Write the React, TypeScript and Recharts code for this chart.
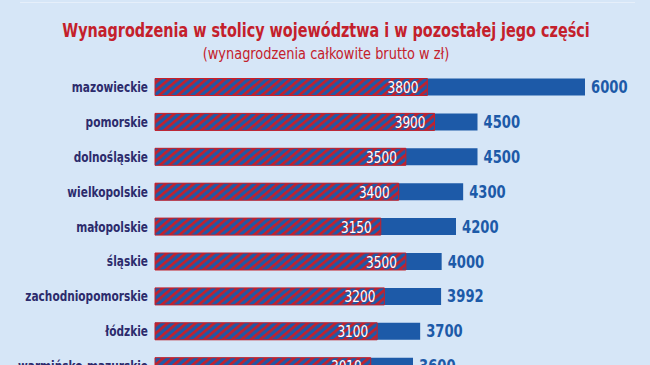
import { BarChart, Bar, XAxis, YAxis, LabelList } from 'recharts'

const regions = [
  'mazowieckie',
  'pomorskie',
  'dolnośląskie',
  'wielkopolskie',
  'małopolskie',
  'śląskie',
  'zachodniopomorskie',
  'łódzkie',
  'warmińsko-mazurskie'
]
const capitalPay = [6000, 4500, 4500, 4300, 4200, 4000, 3992, 3700, 3600]
const restPay = [3800, 3900, 3500, 3400, 3150, 3500, 3200, 3100, 3010]

const data = regions.map((name, i) => ({ name, total: capitalPay[i], rest: restPay[i] }))

const BG = '#d6e6f7'
const BLUE = '#1d5aa8'
const RED = '#c4202b'
const NAVY = '#2c2b6c'
const FONT = '"Liberation Sans Narrow", "DejaVu Sans Condensed", sans-serif'

// narrow the font a bit, the original uses a condensed face
const RegionTick = (props: any) => {
  const { x, y, payload } = props
  return (
    <text
      transform={`translate(${x},${y + 5}) scale(0.84,1)`}
      textAnchor="end"
      fill={NAVY}
      fontSize={14}
      fontWeight={700}
      fontFamily={FONT}
    >
      {payload.value}
    </text>
  )
}

const TotalLabel = (props: any) => {
  const { x, y, width, height, value } = props
  return (
    <text
      transform={`translate(${x + width + 6},${y + height / 2 + 6}) scale(0.86,1)`}
      textAnchor="start"
      fill={BLUE}
      fontSize={17}
      fontWeight={700}
      fontFamily={FONT}
    >
      {value}
    </text>
  )
}

const RestLabel = (props: any) => {
  const { x, y, width, height, value } = props
  return (
    <text
      transform={`translate(${x + width - 9},${y + height / 2 + 6}) scale(0.84,1)`}
      textAnchor="end"
      fill="#ffffff"
      fontSize={16}
      fontFamily={FONT}
    >
      {value}
    </text>
  )
}

export default function App() {
  return (
    <div style={{ position: 'absolute', left: 0, top: 0, width: 650, height: 365, overflow: 'hidden', background: BG }}>
      <div style={{ position: 'absolute', left: 20, right: 15, top: 2, height: 1, background: '#e6effa' }} />
      <svg width={650} height={70} style={{ position: 'absolute', left: 0, top: 0 }}>
        <text
          transform="translate(326,36.7) scale(0.8,1)"
          textAnchor="middle"
          fill={RED}
          fontSize={20}
          fontWeight={700}
          fontFamily={FONT}
        >
          Wynagrodzenia w stolicy województwa i w pozostałej jego części
        </text>
        <text
          transform="translate(326,59.3) scale(0.9,1)"
          textAnchor="middle"
          fill={RED}
          fontSize={16}
          fontFamily={FONT}
        >
          (wynagrodzenia całkowite brutto w zł)
        </text>
      </svg>
      <div style={{ position: 'absolute', left: 0, top: 0 }}>
        <BarChart
          width={650}
          height={392}
          data={data}
          layout="vertical"
          margin={{ top: 69.5, right: 65, left: 0, bottom: 8.4 }}
          barSize={17}
          barGap={-17}
        >
          <defs>
            <pattern id="hatch" patternUnits="userSpaceOnUse" width={6} height={6} patternTransform="rotate(50)">
              <rect x={0} y={0} width={6} height={6} fill={BLUE} />
              <rect x={0} y={0} width={2.7} height={6} fill={RED} />
            </pattern>
          </defs>
          <XAxis type="number" domain={[0, 6000]} hide />
          <YAxis
            type="category"
            dataKey="name"
            width={155}
            axisLine={false}
            tickLine={false}
            tickSize={0}
            tickMargin={7}
            interval={0}
            tick={<RegionTick />}
          />
          <Bar dataKey="total" fill={BLUE} isAnimationActive={false}>
            <LabelList dataKey="total" content={<TotalLabel />} />
          </Bar>
          <Bar dataKey="rest" fill="url(#hatch)" stroke={RED} strokeWidth={1} isAnimationActive={false}>
            <LabelList dataKey="rest" content={<RestLabel />} />
          </Bar>
        </BarChart>
      </div>
    </div>
  )
}
